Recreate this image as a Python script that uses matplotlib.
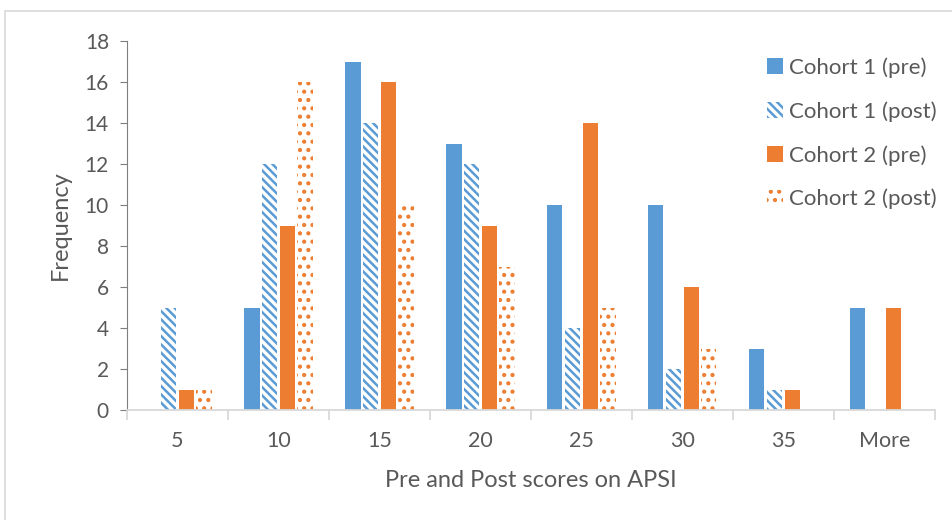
import numpy as np
import matplotlib.pyplot as plt
from matplotlib.patches import Rectangle

categories = ['5', '10', '15', '20', '25', '30', '35', 'More']
cohort1_pre = [0, 5, 17, 13, 10, 10, 3, 5]
cohort1_post = [5, 12, 14, 12, 4, 2, 1, 0]
cohort2_pre = [1, 9, 16, 9, 14, 6, 1, 5]
cohort2_post = [1, 16, 10, 7, 5, 3, 0, 0]
labels = ['Cohort 1 (pre)', 'Cohort 1 (post)', 'Cohort 2 (pre)', 'Cohort 2 (post)']

blue = '#5B9BD5'
orange = '#ED7D31'
grey_text = '#595959'

plt.rcParams['font.family'] = ['Lato', 'DejaVu Sans']
plt.rcParams['hatch.linewidth'] = 1.8

fig = plt.figure(figsize=(9.52, 5.2), dpi=100)
fig.patches.append(Rectangle((0.0053, -0.05), 1.2, 0.979 + 0.05, transform=fig.transFigure,
                             fill=False, edgecolor='#D9D9D9', linewidth=1.2))
ax = fig.add_axes([0.1334, 0.2115, 0.8486, 0.7095])

x = np.arange(len(categories))
w = 0.15
step = 0.175
series = [cohort1_pre, cohort1_post, cohort2_pre, cohort2_post]
styles = [
    dict(color=blue, linewidth=0),
    dict(facecolor='white', edgecolor=blue, hatch='\\\\\\\\', linewidth=0),
    dict(color=orange, linewidth=0),
    dict(facecolor='white', edgecolor=orange, hatch='..', linewidth=0),
]
for k, (vals, st, lab) in enumerate(zip(series, styles, labels)):
    ax.bar(x + (k - 1.5) * step, vals, w, label=lab, **st)

ax.set_xlim(-0.5, len(categories) - 0.5)
ax.set_ylim(0, 18)
ax.set_yticks(range(0, 19, 2))
ax.set_xticks(x)
ax.set_xticklabels(categories)
ax.set_xticks(np.arange(-0.5, len(categories)), minor=True)

for s in ['top', 'right']:
    ax.spines[s].set_visible(False)
ax.spines['left'].set_color('#7F7F7F')
ax.spines['bottom'].set_color('#D9D9D9')
ax.spines['bottom'].set_linewidth(1.3)

ax.tick_params(axis='y', length=5, color='#7F7F7F', labelsize=15, labelcolor=grey_text, pad=8)
ax.tick_params(axis='x', which='major', length=0, labelsize=15.5, labelcolor=grey_text, pad=15)
ax.tick_params(axis='x', which='minor', length=7, color='#D9D9D9', width=1.3)

ax.set_xlabel('Pre and Post scores on APSI', fontsize=17, color=grey_text, labelpad=14)
ax.set_ylabel('Frequency', fontsize=17, color=grey_text, labelpad=10)

ax.legend(loc='upper left', bbox_to_anchor=(756 / 952, 1 - 46 / 520), bbox_transform=fig.transFigure,
          frameon=False, fontsize=16, labelcolor=grey_text, handlelength=0.7, handleheight=0.7,
          handletextpad=0.3, labelspacing=1.05, borderpad=0)

fig.savefig('out.png', dpi=100)
